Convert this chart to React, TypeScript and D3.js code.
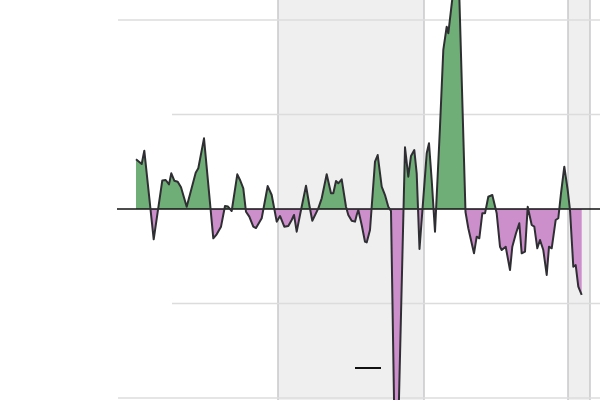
import React from "react";
import * as d3 from "d3";

const times: number[] = [
  2002.0, 2002.285, 2002.415, 2002.885, 2003.315, 2003.485, 2003.65, 2003.765, 2003.915, 2004.085,
  2004.25, 2004.535, 2004.985, 2005.115, 2005.4, 2005.865, 2006.035, 2006.25, 2006.45, 2006.6,
  2006.785, 2007.065, 2007.2, 2007.365, 2007.5, 2007.665, 2007.865, 2008.0, 2008.285, 2008.585,
  2008.785, 2009.035, 2009.2, 2009.415, 2009.615, 2009.785, 2009.9, 2010.035, 2010.2, 2010.5,
  2010.665, 2010.815, 2011.115, 2011.285, 2011.535, 2011.75, 2011.865, 2012.0, 2012.115, 2012.285,
  2012.5, 2012.615, 2012.785, 2012.95, 2013.035, 2013.115, 2013.285, 2013.45, 2013.535, 2013.7,
  2013.95, 2014.085, 2014.285, 2014.45, 2014.615, 2014.75, 2015.0, 2015.45, 2015.615, 2015.75,
  2015.915, 2016.035, 2016.175, 2016.535, 2016.65, 2016.785, 2016.95, 2017.2, 2017.365, 2017.535,
  2017.615, 2018.1, 2018.475, 2018.615, 2018.9, 2019.035, 2019.165, 2019.315, 2019.45, 2019.615,
  2019.815, 2020.035, 2020.2, 2020.285, 2020.485, 2020.7, 2020.815, 2021.0, 2021.165, 2021.285,
  2021.45, 2021.585, 2021.785, 2021.915, 2022.065, 2022.2, 2022.365, 2022.535, 2022.65, 2022.785,
  2022.985, 2023.115, 2023.25, 2023.415, 2023.585, 2023.7, 2023.865, 2023.985, 2024.115, 2024.285,
];

const values: number[] = [
  0.526, 0.476, 0.617, -0.321, 0.302, 0.307, 0.261, 0.378, 0.299, 0.289,
  0.23, 0.024, 0.384, 0.431, 0.748, -0.31, -0.268, -0.187, 0.032, 0.026,
  -0.021, 0.367, 0.307, 0.219, -0.029, -0.081, -0.187, -0.201, -0.098, 0.243,
  0.148, -0.134, -0.074, -0.187, -0.18, -0.116, -0.063, -0.24, -0.063, 0.247,
  0.042, -0.124, 0.007, 0.113, 0.367, 0.166, 0.166, 0.296, 0.272, 0.314,
  0.024, -0.063, -0.124, -0.134, -0.063, -0.011, -0.169, -0.346, -0.354, -0.222,
  0.501, 0.571, 0.236, 0.148, 0.024, -0.021, -3.33, 0.653, 0.342, 0.561,
  0.624, 0.378, -0.423, 0.589, 0.695, 0.307, -0.24, 0.871, 1.683, 1.929,
  1.859, 2.741, -0.032, -0.204, -0.469, -0.293, -0.31, -0.046, -0.046, 0.13,
  0.148, -0.046, -0.399, -0.434, -0.399, -0.646, -0.399, -0.257, -0.151, -0.469,
  -0.452, 0.024, -0.169, -0.187, -0.416, -0.328, -0.434, -0.698, -0.399, -0.416,
  -0.116, -0.098, 0.166, 0.448, 0.201, -0.011, -0.611, -0.593, -0.822, -0.91,
];

const bandStarts: number[] = [2009.1, 2023.6];
const bandEnds: number[] = [2016.4, 2024.7];
const gridTicks: number[] = [2, 1, -1, -2];

export default function App() {
  const W = 600;
  const H = 400;
  const x = d3.scaleLinear().domain([2000, 2025]).range([96, 596]);
  const y = d3.scaleLinear().domain([-2, 2]).range([398, 20]);

  const data = times.map((t, i) => ({ t, v: values[i] }));
  const area = d3
    .area<{ t: number; v: number }>()
    .x((d) => x(d.t))
    .y0(y(0))
    .y1((d) => y(d.v));
  const line = d3
    .line<{ t: number; v: number }>()
    .x((d) => x(d.t))
    .y((d) => y(d.v));

  const zeroY = y(0);
  const areaPath = area(data) || "";
  const linePath = line(data) || "";

  return (
    <svg
      width={W}
      height={H}
      style={{ position: "absolute", left: 0, top: 0, background: "#fff" }}
    >
      <defs>
        <clipPath id="above">
          <rect x={0} y={-200} width={W} height={zeroY + 200} />
        </clipPath>
        <clipPath id="below">
          <rect x={0} y={zeroY} width={W} height={H + 400} />
        </clipPath>
      </defs>
      {bandStarts.map((s, i) => (
        <g key={"b" + i}>
          <rect x={x(s)} y={0} width={x(bandEnds[i]) - x(s)} height={H} fill="#efeff0" />
          <line x1={x(s)} x2={x(s)} y1={0} y2={H} stroke="#c9c9cc" strokeWidth={1.5} />
          <line x1={x(bandEnds[i])} x2={x(bandEnds[i])} y1={0} y2={H} stroke="#c9c9cc" strokeWidth={1.5} />
        </g>
      ))}
      {gridTicks.map((g) => (
        <line
          key={"g" + g}
          x1={Math.abs(g) === 2 ? 118 : 172}
          x2={W}
          y1={y(g)}
          y2={y(g)}
          stroke="#dcdcdc"
          strokeWidth={1.5}
        />
      ))}
      <path d={areaPath} fill="#6fae76" clipPath="url(#above)" />
      <path d={areaPath} fill="#cc8fcc" clipPath="url(#below)" />
      <line x1={117} x2={W} y1={zeroY} y2={zeroY} stroke="#111" strokeWidth={1.5} />
      <path d={linePath} fill="none" stroke="#2f2f33" strokeWidth={2} strokeLinejoin="round" />
      <line x1={355} x2={381} y1={368} y2={368} stroke="#111" strokeWidth={2} />
    </svg>
  );
}
